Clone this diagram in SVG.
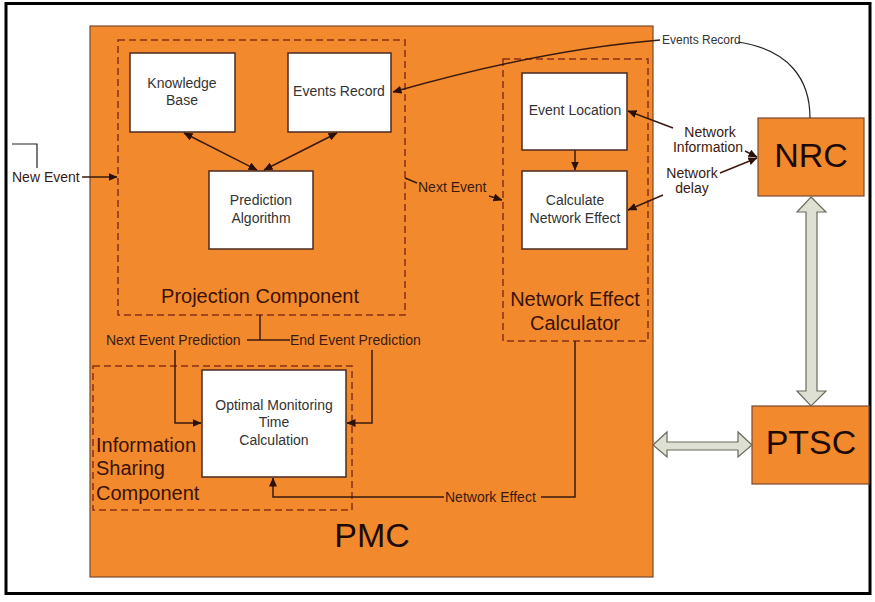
<svg xmlns="http://www.w3.org/2000/svg" width="875" height="602" viewBox="0 0 875 602">
<defs>
<style>
.orange{fill:#F28A2D;stroke:#7a4a30;stroke-width:1.2}
.box{fill:#ffffff;stroke:#4a2a20;stroke-width:1.5}
.dash{fill:none;stroke:#8b2f1a;stroke-width:1.5;stroke-dasharray:7,4}
.conn{fill:none;stroke:#3a1a10;stroke-width:1.5}
.thin{fill:none;stroke:#222;stroke-width:1.2}
.big{fill:#DDE0D3;stroke:#6a6a5c;stroke-width:1.2}
text{font-family:"Liberation Sans",Arial,sans-serif}
.bt{font-size:14px;fill:#333;text-anchor:middle}
.lbl{font-size:14px;fill:#3a1a10}
.reg{font-size:20px;fill:#3a1208}
.huge{font-size:34px;fill:#1e0a05;text-anchor:middle}
</style>
<marker id="ah" markerWidth="9" markerHeight="8" refX="8.5" refY="4" orient="auto-start-reverse" markerUnits="userSpaceOnUse">
<path d="M0,0 L9,4 L0,8 z" fill="#2a1008"/>
</marker>
</defs>
<rect x="0" y="0" width="875" height="602" fill="#ffffff"/>
<rect x="6" y="3.5" width="864" height="590" fill="none" stroke="#000" stroke-width="3"/>

<g id="pmc">
<rect class="orange" x="90" y="26" width="563" height="551"/>
<text class="huge" x="372" y="547">PMC</text>
</g>

<g id="projection-component">
<rect class="dash" x="118" y="40" width="287" height="275"/>
<text class="reg" x="260" y="303" text-anchor="middle">Projection Component</text>
</g>
<g id="knowledge-base">
<rect class="box" x="130" y="53" width="105" height="79"/>
<text class="bt" x="182" y="88">Knowledge</text>
<text class="bt" x="182" y="105">Base</text>
</g>
<g id="events-record">
<rect class="box" x="288" y="53" width="103" height="79"/>
<text class="bt" x="339" y="96">Events Record</text>
</g>
<g id="prediction-algorithm">
<rect class="box" x="209" y="171" width="104" height="78"/>
<text class="bt" x="261" y="205">Prediction</text>
<text class="bt" x="261" y="223">Algorithm</text>
</g>

<g id="network-effect-calculator">
<rect class="dash" x="503" y="59" width="145" height="282"/>
<text class="reg" x="575" y="306" text-anchor="middle">Network Effect</text>
<text class="reg" x="575" y="330" text-anchor="middle">Calculator</text>
</g>
<g id="event-location">
<rect class="box" x="522" y="73" width="105" height="77"/>
<text class="bt" x="575" y="115">Event Location</text>
</g>
<g id="calculate-network-effect">
<rect class="box" x="522" y="171" width="105" height="78"/>
<text class="bt" x="575" y="205">Calculate</text>
<text class="bt" x="575" y="223">Network Effect</text>
</g>

<g id="information-sharing-component">
<rect class="dash" x="93" y="366" width="259" height="144"/>
<text class="reg" x="96" y="452">Information</text>
<text class="reg" x="96" y="475">Sharing</text>
<text class="reg" x="96" y="500">Component</text>
</g>
<g id="optimal-monitoring">
<rect class="box" x="202" y="370" width="144" height="107"/>
<text class="bt" x="274" y="410">Optimal Monitoring</text>
<text class="bt" x="274" y="427">Time</text>
<text class="bt" x="274" y="445">Calculation</text>
</g>

<g id="nrc">
<rect class="orange" x="758" y="118" width="106" height="78"/>
<text class="huge" x="811" y="167">NRC</text>
</g>
<g id="ptsc">
<rect class="orange" x="752" y="406" width="117" height="78"/>
<text class="huge" x="811" y="454">PTSC</text>
</g>

<g id="connectors">
<line class="conn" x1="184" y1="133" x2="257" y2="170" marker-start="url(#ah)" marker-end="url(#ah)"/>
<line class="conn" x1="337" y1="133" x2="264" y2="170" marker-start="url(#ah)" marker-end="url(#ah)"/>
<path class="thin" d="M12,144 H37 V168"/>
<text class="lbl" x="12" y="182">New Event</text>
<line class="conn" x1="82" y1="177" x2="117" y2="177" marker-end="url(#ah)"/>
<line class="conn" x1="405" y1="178" x2="417" y2="183"/>
<text class="lbl" x="418" y="192" font-size="13">Next Event</text>
<line class="conn" x1="489" y1="196" x2="502" y2="200" marker-end="url(#ah)"/>
<path class="conn" d="M660,40 Q540,50 393,92" marker-end="url(#ah)"/>
<text x="662" y="44" font-size="12" fill="#333">Events Record</text>
<path class="thin" d="M738,42 C790,50 810,80 810,118"/>
<line class="conn" x1="575" y1="150" x2="575" y2="170" marker-end="url(#ah)"/>
<text class="lbl" x="710" y="137" font-size="13" text-anchor="middle">Network</text>
<text class="lbl" x="708" y="152" font-size="13" text-anchor="middle">Information</text>
<line class="conn" x1="673" y1="128" x2="628" y2="111" marker-end="url(#ah)"/>
<line class="conn" x1="745" y1="151" x2="757" y2="157" marker-end="url(#ah)"/>
<text class="lbl" x="692" y="178" font-size="13" text-anchor="middle">Network</text>
<text class="lbl" x="692" y="193" font-size="13" text-anchor="middle">delay</text>
<line class="conn" x1="720" y1="173" x2="757" y2="158" marker-end="url(#ah)"/>
<line class="conn" x1="663" y1="195" x2="628" y2="210" marker-end="url(#ah)"/>
<path class="conn" d="M260,315 V340 M247,340 H290"/>
<text class="lbl" x="106" y="345">Next Event Prediction</text>
<text class="lbl" x="290" y="345">End Event Prediction</text>
<path class="conn" d="M175,350 V423 H201" marker-end="url(#ah)"/>
<path class="conn" d="M372,350 V423 H347" marker-end="url(#ah)"/>
<path class="conn" d="M575,341 V497 H541"/>
<text class="lbl" x="445" y="502" font-size="13">Network Effect</text>
<path class="conn" d="M444,497 H273 V478" marker-end="url(#ah)"/>
<path class="big" d="M811,197 L826,212 L817,212 L817,391 L826,391 L811,406 L797,391 L806,391 L806,212 L797,212 Z"/>
<path class="big" d="M653,445 L667,432 L667,442 L738,442 L738,432 L752,445 L738,457 L738,450 L667,450 L667,457 Z"/>
</g>
</svg>
